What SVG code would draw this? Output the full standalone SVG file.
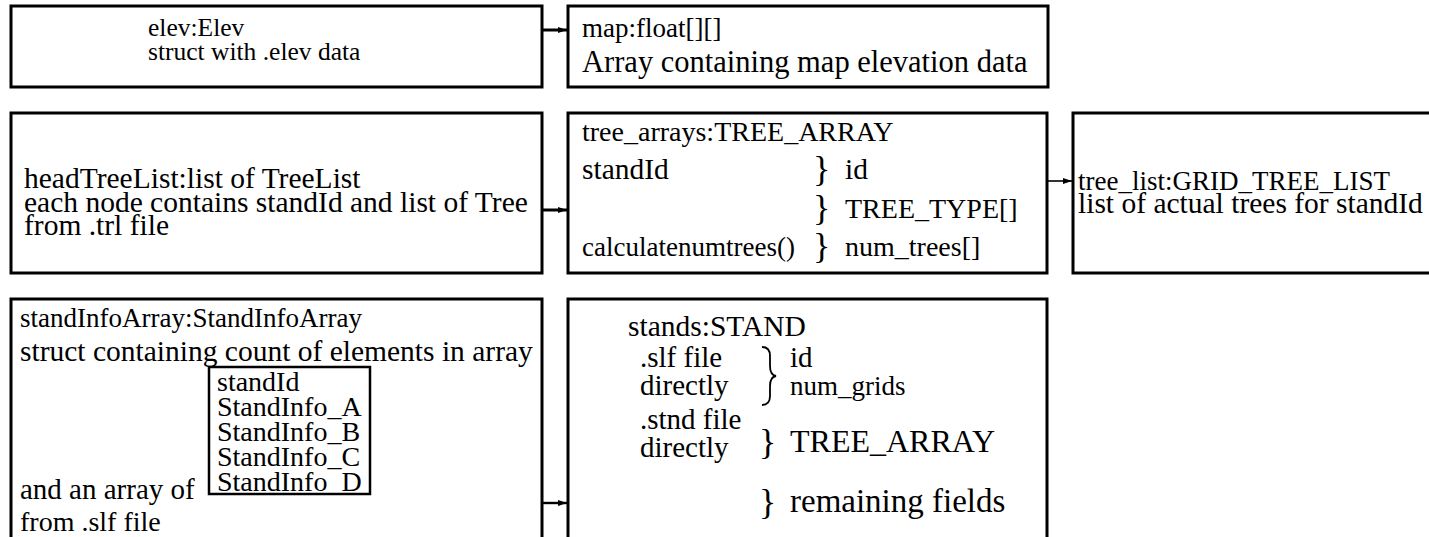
<svg xmlns="http://www.w3.org/2000/svg" width="1429" height="537" viewBox="0 0 1429 537">
<style>
.box{fill:#fff;stroke:#000;stroke-width:3}
.ibox{fill:#fff;stroke:#000;stroke-width:2.5}
text{font-family:'Liberation Serif','Times New Roman','DejaVu Serif',serif;font-size:29.5px;fill:#000}
.s25{font-size:25.5px}
.s27{font-size:27px}
.s28{font-size:28px}
.s29{font-size:29px}
.s30{font-size:30.5px}
.s32{font-size:32px}
.s33{font-size:33px}
.br{font-size:36px}
.conn{stroke:#000;fill:none}
</style>
<defs>
<marker id="ah" markerUnits="userSpaceOnUse" markerWidth="10" markerHeight="8" refX="9" refY="4" orient="auto">
<path d="M0,1 L9,4 L0,7 Z" fill="#000"/>
</marker>
</defs>
<rect width="1429" height="537" fill="#fff"/>
<g id="connectors">
<line class="conn" x1="542" y1="30" x2="567" y2="30" stroke-width="3" marker-end="url(#ah)"/>
<line class="conn" x1="542" y1="210" x2="567" y2="210" stroke-width="3" marker-end="url(#ah)"/>
<line class="conn" x1="1047" y1="181" x2="1072" y2="181" stroke-width="1.6" marker-end="url(#ah)"/>
<line class="conn" x1="542" y1="503" x2="567" y2="503" stroke-width="2.4" marker-end="url(#ah)"/>
</g>
<g id="elev">
<rect class="box" x="11" y="6" width="531" height="81"/>
<text class="s25" x="148" y="36">elev:Elev</text>
<text class="s25" x="148" y="60">struct with .elev data</text>
</g>
<g id="map">
<rect class="box" x="568" y="6" width="480" height="81"/>
<text class="s27" x="582" y="37">map:float[][]</text>
<text class="s30" x="582" y="72">Array containing map elevation data</text>
</g>
<g id="headTreeList">
<rect class="box" x="11" y="113" width="531" height="160"/>
<text x="24" y="188">headTreeList:list of TreeList</text>
<text x="24" y="212">each node contains standId and list of Tree</text>
<text x="24" y="235">from .trl file</text>
</g>
<g id="tree_arrays">
<rect class="box" x="568" y="113" width="479" height="160"/>
<text class="s28" x="582" y="141">tree_arrays:TREE_ARRAY</text>
<text x="582" y="179">standId</text>
<text class="br" x="813" y="181">}</text>
<text x="845" y="179">id</text>
<text class="br" x="813" y="220">}</text>
<text class="s28" x="845" y="218">TREE_TYPE[]</text>
<text class="s27" x="582" y="256">calculatenumtrees()</text>
<text class="br" x="813" y="258">}</text>
<text class="s28" x="845" y="256">num_trees[]</text>
</g>
<g id="tree_list">
<rect class="box" x="1073" y="113" width="400" height="160"/>
<text class="s27" x="1078" y="190">tree_list:GRID_TREE_LIST</text>
<text x="1078" y="213">list of actual trees for standId</text>
</g>
<g id="standInfoArray">
<rect class="box" x="11" y="299" width="531" height="260"/>
<text class="s27" x="20" y="327">standInfoArray:StandInfoArray</text>
<text x="20" y="361">struct containing count of elements in array</text>
<rect class="ibox" x="209" y="367" width="161" height="127"/>
<text class="s28" x="217" y="391">standId</text>
<text class="s28" x="217" y="416">StandInfo_A</text>
<text class="s28" x="217" y="441">StandInfo_B</text>
<text class="s28" x="217" y="466">StandInfo_C</text>
<text class="s28" x="217" y="491">StandInfo_D</text>
<text class="s29" x="20" y="499">and an array of</text>
<text class="s28" x="20" y="531">from .slf file</text>
</g>
<g id="stands">
<rect class="box" x="568" y="299" width="479" height="260"/>
<text x="628" y="336">stands:STAND</text>
<text class="s29" x="640" y="367">.slf file</text>
<text class="s29" x="640" y="395">directly</text>
<path d="M762,347 Q770,347 770,356 L770,366 Q770,375 776,376 Q770,377 770,386 L770,396 Q770,405 762,405" fill="none" stroke="#000" stroke-width="1.8"/>
<text class="s29" x="790" y="367">id</text>
<text class="s27" x="790" y="395">num_grids</text>
<text class="s29" x="640" y="429">.stnd file</text>
<text class="s29" x="640" y="457">directly</text>
<text class="br" x="759" y="454">}</text>
<text class="s32" x="790" y="452">TREE_ARRAY</text>
<text class="br" x="759" y="514">}</text>
<text class="s33" x="790" y="512">remaining fields</text>
</g>
</svg>
